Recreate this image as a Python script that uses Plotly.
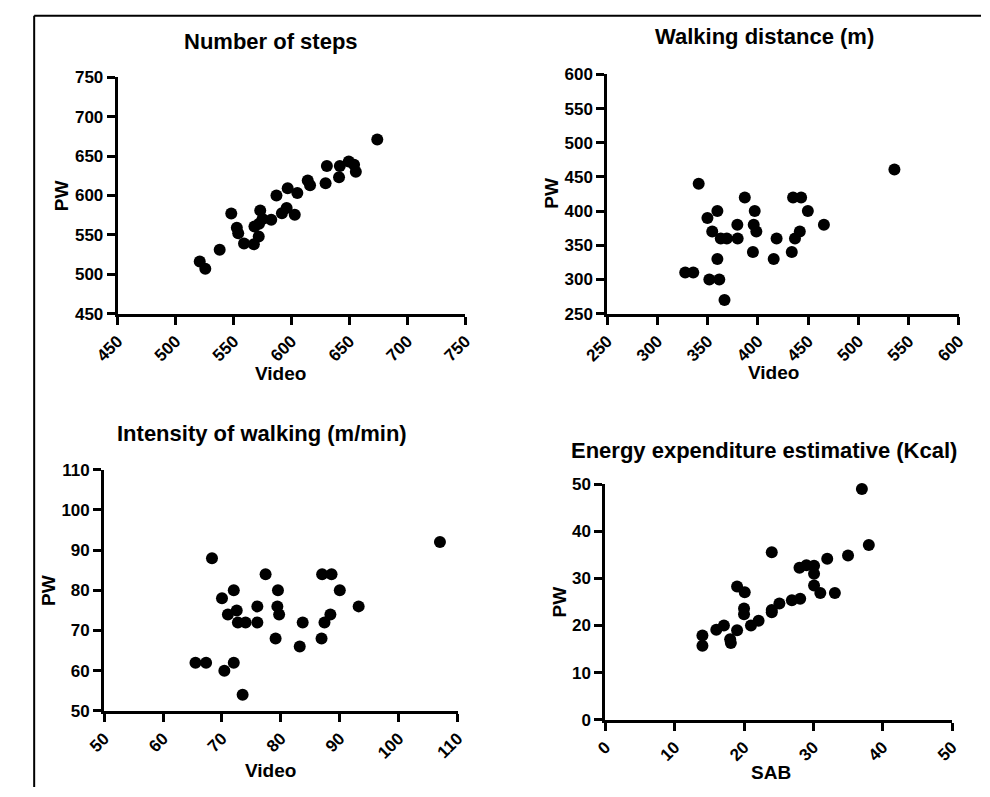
import plotly.graph_objects as go

W, H = 990, 797

# ---- data ----
steps_video = [520.8, 525.6, 538, 548, 552.8, 554, 559, 567.5, 568, 571.7, 573, 572, 575, 582.5, 587,
               591.7, 595.8, 596.7, 602.8, 605, 614, 616, 629.4, 630.5, 641, 641.7, 649.4, 654, 655.5, 674]
steps_pw = [516, 507, 531, 577, 559, 552, 539, 538, 560.5, 548, 581, 564, 570, 569, 600,
            577.5, 584, 609, 575.5, 603, 619, 613, 615.5, 637.5, 623, 637.5, 643, 639, 630, 671]

dist_video = [327.6, 335.6, 341, 349.7, 351.6, 354.5, 359.6, 359.6, 361.5, 363, 366.7, 369, 379.5, 379.8,
              386.9, 395, 395.8, 396.8, 398.4, 415.7, 418.6, 433.7, 435, 436.9, 441.7, 443, 449.7, 465.7, 535.9]
dist_pw = [310, 310, 440, 390, 300, 370, 400, 330, 300, 360, 270, 360, 380, 360,
           420, 340, 380, 400, 370, 330, 360, 340, 420, 360, 370, 420, 400, 380, 461]

int_video = [65.5, 67.3, 68.3, 70, 70.4, 71, 72, 72, 72.5, 72.7, 74, 73.5, 76, 76, 77.4, 79.1, 79.4,
             79.5, 79.7, 83.2, 83.7, 86.9, 87, 87.4, 88.4, 88.6, 90, 93.2, 107]
int_pw = [62, 62, 88, 78, 60, 74, 80, 62, 75, 72, 72, 54, 76, 72, 84, 68, 76,
          80, 74, 66, 72, 68, 84, 72, 74, 84, 80, 76, 92]

energy_sab = [14, 14, 16, 17.1, 18, 18.1, 19, 19, 20.1, 20, 20, 21, 22.1, 24, 24, 24, 25.1, 26.9,
              28.1, 28, 29, 30.1, 30.1, 30.1, 31, 32, 33.1, 35, 37, 38]
energy_pw = [17.9, 15.7, 19.1, 20, 17.1, 16.3, 28.3, 19, 27.1, 23.6, 22.4, 20, 21, 35.6, 23.3, 22.8, 24.7, 25.4,
             25.7, 32.3, 32.8, 32.7, 31, 28.5, 26.9, 34.2, 26.9, 34.9, 49, 37.1]

titles = ["Number of steps", "Walking distance (m)", "Intensity of walking (m/min)",
          "Energy expenditure estimative (Kcal)"]
x_titles = ["Video", "Video", "Video", "SAB"]
y_title = "PW"
x_ranges = [[450, 750], [250, 600], [50, 110], [0, 50]]
y_ranges = [[450, 750], [250, 600], [50, 110], [0, 50]]
x_dticks = [50, 50, 10, 10]
y_dticks = [50, 50, 10, 10]

# ---- layout geometry (pixels) ----
boxes = [  # x0, x1, ytop, ybottom
    (96, 456, 70, 312),
    (603, 967, 67, 312),
    (82, 448, 472, 719),
    (601, 960, 487, 728),
]
title_pos = [(255, 33), (766, 28), (245, 435), (765, 452)]
xtitle_pos = [(265, 373), (775, 372), (254, 780), (773, 782)]
ytitle_pos = [(38, 191), (545, 189), (25, 596), (553, 608)]

FONT = "Liberation Sans, Arial, sans-serif"


def px(x):
    return x / W


def py(y):
    return 1 - y / H


data_x = [steps_video, dist_video, int_video, energy_sab]
data_y = [steps_pw, dist_pw, int_pw, energy_pw]

fig = go.Figure()
layout = dict(
    width=W, height=H, margin=dict(l=0, r=0, t=0, b=0),
    paper_bgcolor="white", plot_bgcolor="white", showlegend=False,
    font=dict(family=FONT, color="black"),
)
annotations = []
for i in range(4):
    k = "" if i == 0 else str(i + 1)
    x0, x1, yt, yb = boxes[i]
    fig.add_trace(go.Scatter(
        x=data_x[i], y=data_y[i], mode="markers", xaxis="x" + k, yaxis="y" + k,
        marker=dict(color="black", size=12, line=dict(width=0)), cliponaxis=False,
    ))
    common = dict(showgrid=False, zeroline=False, showline=True, linecolor="black", linewidth=3,
                  ticks="outside", ticklen=8, tickwidth=3, tickcolor="black",
                  tickfont=dict(family=FONT, size=17, color="black", weight="bold"))
    layout["xaxis" + k] = dict(domain=[px(x0), px(x1)], range=x_ranges[i], dtick=x_dticks[i],
                               tick0=x_ranges[i][0], tickangle=-45, anchor="y" + k, fixedrange=True, **common)
    layout["yaxis" + k] = dict(domain=[py(yb), py(yt)], range=y_ranges[i], dtick=y_dticks[i],
                               tick0=y_ranges[i][0], anchor="x" + k, fixedrange=True, **common)
    tx, ty = title_pos[i]
    annotations.append(dict(text=titles[i], x=px(tx), y=py(ty), xref="paper", yref="paper",
                            showarrow=False, xanchor="center", yanchor="middle",
                            font=dict(family=FONT, size=22, color="black", weight="bold")))
    ax, ay = xtitle_pos[i]
    annotations.append(dict(text=x_titles[i], x=px(ax), y=py(ay), xref="paper", yref="paper",
                            showarrow=False, xanchor="center", yanchor="middle",
                            font=dict(family=FONT, size=19, color="black", weight="bold")))
    bx, by = ytitle_pos[i]
    annotations.append(dict(text=y_title, x=px(bx), y=py(by), xref="paper", yref="paper",
                            showarrow=False, xanchor="center", yanchor="middle", textangle=-90,
                            font=dict(family=FONT, size=19, color="black", weight="bold")))

layout["annotations"] = annotations
layout["shapes"] = [
    dict(type="line", xref="paper", yref="paper", x0=px(9.5), x1=px(9.5), y0=0, y1=py(7),
         line=dict(color="black", width=2)),
    dict(type="line", xref="paper", yref="paper", x0=px(9.5), x1=1, y0=py(7), y1=py(7),
         line=dict(color="black", width=2)),
]
fig.update_layout(**layout)
fig.write_html("out.html")
